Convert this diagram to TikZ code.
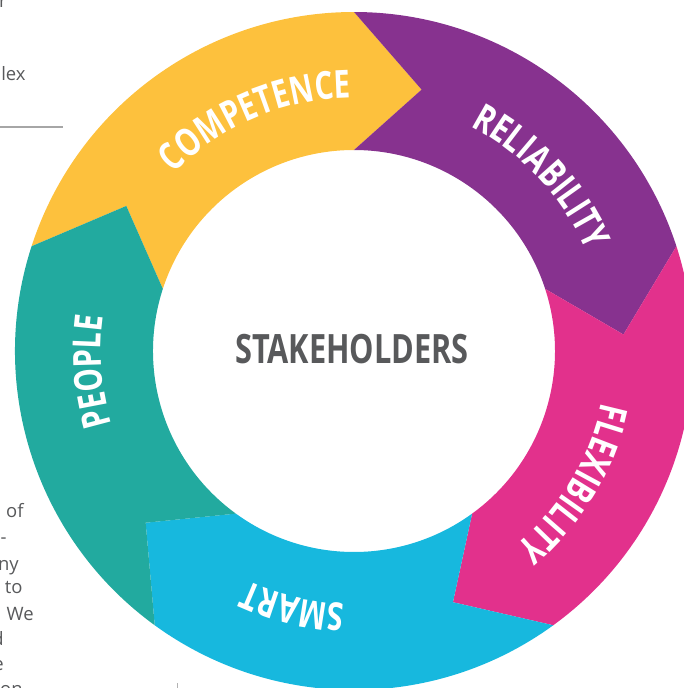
\documentclass[tikz,border=0pt]{standalone}
\usepackage{fontspec}
\setmainfont{Open Sans}
\newfontfamily\condfont{Open Sans}[FakeStretch=0.76]
\usetikzlibrary{decorations.text}

\definecolor{segyellow}{HTML}{FDC13D}
\definecolor{segpurple}{HTML}{87328F}
\definecolor{segpink}{HTML}{E2318C}
\definecolor{segblue}{HTML}{17B8DE}
\definecolor{segteal}{HTML}{22AA9F}
\definecolor{hubgray}{HTML}{58595B}

\newcommand{\labelfont}{\condfont\bfseries\fontsize{22}{22}\selectfont\color{white}}

\begin{document}
\begin{tikzpicture}[
    segment/.style={fill=#1},
    arclabel/.style={decorate, decoration={text along path, text align=center, text={|\labelfont|#1}}},
    hub/.style={font=\condfont\bfseries\fontsize{23}{23}\selectfont, text=hubgray},
    bodytext/.style={font=\fontsize{10.5}{12}\selectfont, text=hubgray, inner sep=0pt, anchor=base east}
]
\useasboundingbox (-7.08,-6.74) rectangle (6.60,7.02);
\clip (-7.08,-6.74) rectangle (6.60,7.02);

% Ring segments (outer 6.78, inner 4.02, tips at 5.40)
\foreach \a/\col in {162/segyellow, 90/segpurple, 18/segpink, -54/segblue, -126/segteal}
    \fill[segment=\col] (\a:6.78) arc[start angle=\a, end angle=\a-72, radius=6.78]
        -- ({\a-86.5}:5.40) -- ({\a-72}:4.02)
        arc[start angle=\a-72, end angle=\a, radius=4.02]
        -- ({\a-14.5}:5.40) -- cycle;

% Labels along the ring
\path[arclabel=COMPETENCE] (153:5.06) arc[start angle=153, end angle=73, radius=5.06];
\path[arclabel=RELIABILITY] (83:5.06) arc[start angle=83, end angle=3, radius=5.06];
\path[arclabel=FLEXIBILITY] (9:5.06) arc[start angle=9, end angle=-71, radius=5.06];
\path[arclabel=SMART] (-63.5:5.06) arc[start angle=-63.5, end angle=-143.5, radius=5.06];
\path[arclabel=PEOPLE] (224.5:5.06) arc[start angle=224.5, end angle=144.5, radius=5.06];

% Centre
\node[hub] (stakeholders) at (-0.04,0.04) {STAKEHOLDERS};

% Page text cut off at the left edge
\node[bodytext] (t1) at (-6.94,6.88) {r};
\node[bodytext] (t2) at (-6.56,5.42) {lex};
\coordinate (rulestart) at (-7.08,4.48);
\coordinate (ruleend) at (-5.82,4.48);
\draw[gray!70, line width=0.6pt] (rulestart) -- (ruleend);
\node[bodytext] (t3) at (-6.60,-3.32) {of};
\node[bodytext] (t4) at (-6.94,-3.84) {-};
\node[bodytext] (t5) at (-6.70,-4.38) {ny};
\node[bodytext] (t6) at (-6.62,-4.84) {to};
\node[bodytext] (t7) at (-6.40,-5.38) {We};
\node[bodytext] (t8) at (-7.00,-5.88) {d};
\node[bodytext] (t9) at (-7.00,-6.38) {e};
\node[bodytext] (t10) at (-6.62,-6.88) {on};
\coordinate (ticktop) at (-3.54,-6.64);
\coordinate (tickbottom) at (-3.54,-6.80);
\draw[gray!60, line width=0.4pt] (ticktop) -- (tickbottom);
\end{tikzpicture}
\end{document}
